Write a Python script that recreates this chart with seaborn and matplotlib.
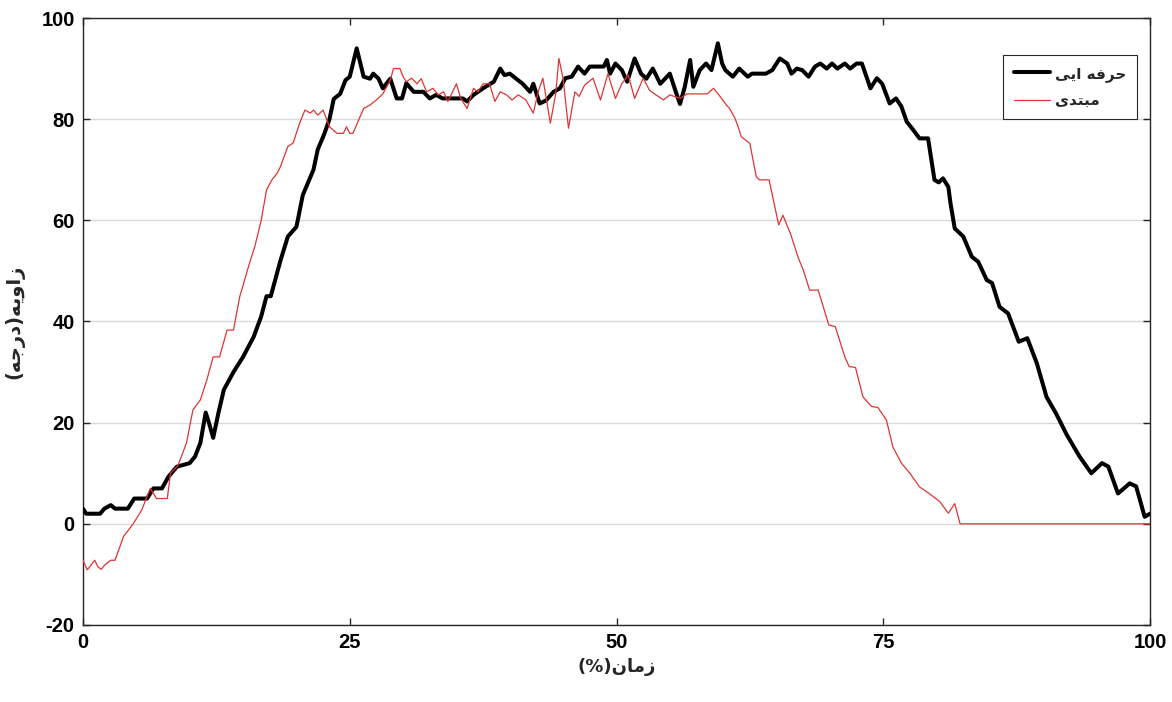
import matplotlib
matplotlib.use("Agg")
import matplotlib.pyplot as plt
import seaborn as sns
import pandas as pd

# ---- data ----
expert_x = [0, 0.3, 1.6, 2.0, 2.6, 3.0, 4.2, 4.5, 4.8, 6.0, 6.6, 7.4, 8.0, 8.8, 10.0, 10.5, 11.0,
            11.5, 11.8, 12.2, 12.7, 13.2, 14.1, 15.0, 16.0, 16.7, 17.2, 17.6, 18.5, 19.2, 20.0,
            20.6, 21.6, 22.0, 22.6, 23.1, 23.5, 24.1, 24.6, 25.0, 25.65, 26.3, 26.9, 27.2, 27.7,
            28.1, 28.8, 29.4, 29.9, 30.3, 31.0, 31.9, 32.5, 33.1, 33.7, 35.6, 36.0, 36.6, 37.5,
            38.5, 39.1, 39.5, 40.0, 40.6, 41.2, 41.9, 42.2, 42.8, 43.4, 44.1, 44.7, 45.2, 45.8,
            46.4, 47.0, 47.5, 48.8, 49.1, 49.4, 49.9, 50.5, 51.0, 51.7, 52.3, 52.8, 53.4, 54.1,
            55.0, 55.4, 55.95, 56.4, 56.9, 57.2, 57.8, 58.4, 58.9, 59.5, 59.9, 60.2, 60.9, 61.5,
            62.3, 62.7, 64.0, 64.6, 65.3, 66.0, 66.4, 66.9, 67.4, 68.0, 68.6, 69.1, 69.7, 70.2,
            70.7, 71.4, 71.9, 72.5, 73.0, 73.8, 74.4, 74.9, 75.6, 76.2, 76.7, 77.2, 77.8, 78.4,
            79.2, 79.8, 80.2, 80.6, 81.1, 81.3, 81.7, 82.5, 83.3, 83.9, 84.7, 85.2, 85.9, 86.7,
            87.7, 88.5, 89.4, 90.3, 91.2, 92.2, 93.4, 94.5, 95.5, 96.1, 97.0, 98.1, 98.7, 99.5, 100]
expert_y = [3, 2, 2, 3, 3.7, 3, 3, 4, 5, 5, 7, 7, 9.3, 11.3, 12, 13.3, 16,
            22, 20, 17, 22, 26.5, 30, 33, 37, 41, 45, 45, 52, 56.8, 58.7,
            65, 70, 74, 77, 80, 84, 85, 87.7, 88.4, 94, 88.4, 88, 89, 88,
            86.1, 88, 84.1, 84.1, 87.1, 85.4, 85.4, 84.1, 84.8, 84.1, 84.1, 83.5, 84.8, 86.1,
            87.4, 90, 88.7, 89, 88, 87, 85.4, 87, 83.1, 83.7, 85.4, 86.1, 88.1, 88.4,
            90.4, 89, 90.4, 90.4, 91.7, 89, 91, 89.7, 87.4, 92, 89, 88, 90, 87,
            89, 86.4, 83, 86.4, 91.7, 86.4, 89.7, 91, 89.7, 95, 91, 89.7, 88.4, 90,
            88.4, 89, 89, 89.7, 92, 91, 89, 90, 89.7, 88.4, 90.4, 91, 90, 91,
            90, 91, 90, 91, 91, 86.1, 88.1, 87, 83.1, 84.1, 82.5, 79.5, 77.9, 76.2,
            76.2, 68, 67.5, 68.3, 66.6, 63.4, 58.4, 56.8, 52.8, 51.8, 48.2, 47.6, 42.9, 41.6,
            36, 36.7, 31.7, 25.1, 21.8, 17.6, 13.3, 10, 12, 11.3, 6, 8, 7.4, 1.4, 2]

novice_x = [0, 0.4, 0.8, 1.1, 1.4, 1.7, 2.1, 2.6, 3.0, 3.8, 4.7, 5.5, 6.3, 6.9, 7.9, 8.2, 8.9,
            9.7, 10.3, 11.0, 11.6, 12.2, 12.8, 13.5, 14.1, 14.7, 15.6, 16.1, 16.7, 17.2, 17.7,
            18.2, 18.5, 19.2, 19.7, 20.3, 20.8, 21.3, 21.6, 22.0, 22.5, 23.1, 23.8, 24.4, 24.7,
            25.0, 25.3, 26.3, 26.9, 27.5, 28.1, 28.8, 29.1, 29.7, 30.0, 30.3, 30.8, 31.3, 31.7,
            32.2, 32.8, 33.3, 33.8, 34.2, 35.0, 35.4, 36.0, 36.6, 37.0, 37.5, 38.1, 38.6, 39.1,
            39.7, 40.2, 40.8, 41.5, 42.2, 42.7, 43.1, 43.8, 44.3, 44.6, 45.0, 45.5, 46.1, 46.5,
            47.0, 47.8, 48.5, 49.2, 49.9, 50.5, 51.1, 51.7, 52.5, 53.1, 53.7, 54.4, 55.0, 55.95,
            56.6, 58.5, 59.1, 59.7, 60.3, 60.6, 61.1, 61.4, 61.7, 62.5, 62.8, 63.1, 63.4, 64.3,
            64.7, 65.2, 65.6, 66.3, 67.0, 67.5, 68.1, 68.9, 69.9, 70.5, 71.4, 71.8, 72.4, 73.1,
            73.9, 74.5, 75.3, 75.9, 76.7, 77.5, 78.4, 79.3, 80.3, 81.1, 81.7, 82.2, 100]
novice_y = [-7.2, -9.1, -8, -7.2, -8.5, -9, -8, -7.2, -7.2, -2.5, 0, 2.7, 7, 5, 5, 10, 11.5,
            16, 22.5, 24.5, 28.4, 33, 33, 38.3, 38.3, 45, 51.5, 54.8, 60, 66, 68,
            69.3, 70.6, 74.6, 75.3, 79.2, 81.8, 81.2, 81.8, 80.8, 81.8, 78.5, 77.2, 77.2, 78.5,
            77.2, 77.2, 82.1, 82.8, 83.8, 85, 87.7, 90, 90, 88.4, 87.4, 88.1, 87, 88,
            85.4, 86.1, 84.8, 85.4, 83.5, 87, 84.1, 82.1, 86.1, 85.4, 87, 87, 83.5, 85.4,
            84.8, 83.8, 84.8, 83.8, 81.2, 85.7, 88.1, 79.2, 85, 92, 88, 78.2, 85.4, 84.5,
            86.7, 88.1, 83.8, 89, 84.1, 87, 88.7, 84.1, 88.1, 85.7, 84.8, 83.8, 84.8, 84.1,
            85, 85, 86.1, 84.5, 82.8, 82.1, 80.2, 78.5, 76.5, 75.2, 71.9, 68.6, 68, 68,
            64, 59.1, 61, 57.4, 52.8, 50.2, 46.2, 46.2, 39.3, 39, 33, 31.1, 30.9, 25.1,
            23.2, 23, 20.5, 15.2, 12, 10, 7.3, 6, 4.4, 2.1, 4, 0, 0]

# Persian labels (visual order, Arabic presentation forms)
label_expert = "ﯽﯾﺍ ﻪﻓﺮﺣ"      # حرفه ایی
label_novice = "ﯼﺪﺘﺒﻣ"         # مبتدی
xlabel_text = "(%)ﻥﺎﻣﺯ"        # زمان(%)
ylabel_text = "(ﻪﺟﺭﺩ)ﻪﯾﻭﺍﺯ"    # زاویه(درجه)

x_ticks = [0, 25, 50, 75, 100]
y_ticks = [-20, 0, 20, 40, 60, 80, 100]

# ---- plot ----
sns.set_theme(style="white")
plt.rcParams['font.family'] = ['Liberation Sans', 'DejaVu Sans']
plt.rcParams['font.weight'] = 'bold'

fig = plt.figure(figsize=(11.72, 7.02), dpi=100)
ax = fig.add_axes([83/1172, 1 - 625/702, (1150-83)/1172, (625-18)/702])

df_e = pd.DataFrame({"x": expert_x, "y": expert_y})
df_n = pd.DataFrame({"x": novice_x, "y": novice_y})
sns.lineplot(data=df_e, x="x", y="y", ax=ax, color="black", linewidth=2.9,
             sort=False, estimator=None, label=label_expert, zorder=3)
sns.lineplot(data=df_n, x="x", y="y", ax=ax, color="#e03434", linewidth=0.9,
             sort=False, estimator=None, label=label_novice, zorder=4)

ax.set_xlim(0, 100)
ax.set_ylim(-20, 100)
ax.set_xticks(x_ticks)
ax.set_yticks(y_ticks)
ax.set_xticklabels([str(t) for t in x_ticks], fontsize=14.5, fontweight='bold')
ax.set_yticklabels([str(t) for t in y_ticks], fontsize=14.5, fontweight='bold')
ax.yaxis.grid(True, color="#d9d9d9", linewidth=1.0)
ax.xaxis.grid(False)
ax.set_axisbelow(True)
ax.tick_params(direction='in', length=5, width=1, colors='#262626',
               top=True, right=True, bottom=True, left=True, pad=6)
for t in ax.get_xticklabels() + ax.get_yticklabels():
    t.set_color('black')
for s in ax.spines.values():
    s.set_visible(True)
    s.set_color('#262626')
    s.set_linewidth(1.0)

ax.set_xlabel(xlabel_text, fontsize=13, fontweight='bold', labelpad=4,
              family=['DejaVu Sans'])
ax.set_ylabel(ylabel_text, fontsize=14, fontweight='bold', labelpad=12,
              family=['DejaVu Sans'])

leg = ax.legend(loc='upper right', bbox_to_anchor=(1 - 13/1067, 1 - 37/607),
                borderaxespad=0, frameon=True, fancybox=False, framealpha=1,
                edgecolor='#262626', handlelength=2.4, handletextpad=0.3,
                prop={'family': ['DejaVu Sans'], 'weight': 'bold', 'size': 11},
                borderpad=0.7, labelspacing=0.8)
leg.get_frame().set_linewidth(0.8)

fig.savefig("out.png", dpi=100)
